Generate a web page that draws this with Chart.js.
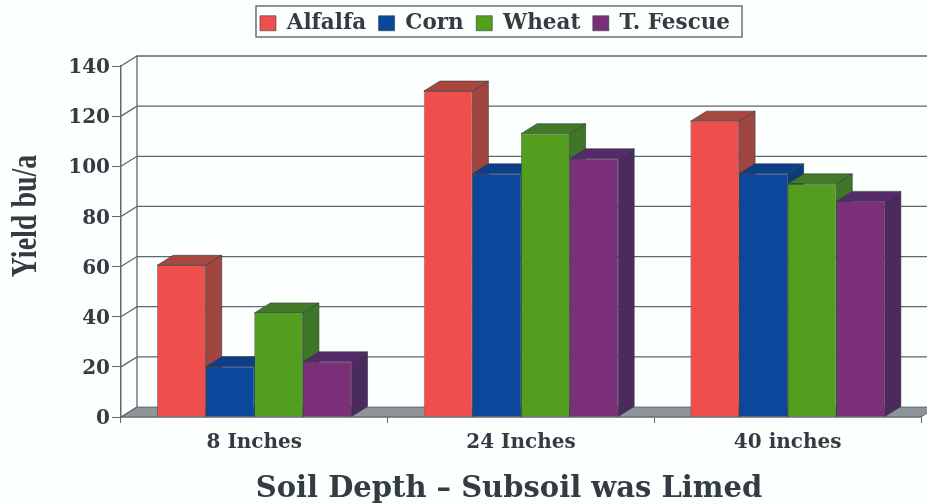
<!DOCTYPE html>
<html>
<head>
<meta charset="utf-8">
<style>
  html, body { margin: 0; padding: 0; background: #fbfffe; }
  #wrap { width: 927px; height: 504px; }
</style>
<script src="https://cdn.jsdelivr.net/npm/chart.js@4/dist/chart.umd.min.js"></script>
</head>
<body>
<div id="wrap"><canvas id="yieldChart" width="927" height="504"></canvas></div>
<script>
const depths = ['8 Inches', '24 Inches', '40 inches'];
const names = ['Alfalfa', 'Corn', 'Wheat', 'T. Fescue'];
const alfalfa = [60.5, 130, 118];
const corn = [20, 97, 97];
const wheat = [41.5, 113, 93];
const fescue = [22, 103, 86];
const yTitle = 'Yield bu/a';
const xTitle = 'Soil Depth – Subsoil was Limed';

const FONT = '"DejaVu Serif", "Liberation Serif", serif';
const INK = '#333c40';
const LINE = '#5f686c';

// how far the back of the "3d" box sits from the front
const DX = 16, DY = -10;

// colours per series: front, side, top
const faces = [
  ['#ee4f4c', '#a0453f', '#a8473f'],
  ['#0b479b', '#0a3a80', '#0b3f8a'],
  ['#549e1f', '#3e7528', '#427a28'],
  ['#7a2f78', '#4b2a5e', '#55296a']
];

function poly(ctx, pts, fill) {
  ctx.beginPath();
  pts.forEach((p, i) => i ? ctx.lineTo(p[0], p[1]) : ctx.moveTo(p[0], p[1]));
  ctx.closePath();
  ctx.fillStyle = fill;
  ctx.fill();
  ctx.strokeStyle = '#2f3a3d';
  ctx.lineWidth = 0.6;
  ctx.stroke();
}

// walls, floor and the back of the bars, native bars then draw the fronts on top
const box3d = {
  id: 'box3d',
  beforeInit(chart) {
    // legend keeps the strip above the plot
    const fit = chart.legend.fit;
    chart.legend.fit = function () {
      fit.call(this);
      this.height = 66;
    };
  },
  afterLayout(chart) {
    // legend sits right of the page centre in the original
    chart.legend.left = 69;
  },
  beforeDatasetsDraw(chart) {
    const ctx = chart.ctx;
    const { left, right, bottom } = chart.chartArea;
    const y = chart.scales.y;
    ctx.save();

    poly(ctx, [[left, bottom], [left + DX, bottom + DY], [right + DX, bottom + DY], [right, bottom]], '#8e9599');

    ctx.strokeStyle = LINE;
    ctx.lineWidth = 1.3;
    y.ticks.forEach(t => {
      const py = y.getPixelForValue(t.value);
      ctx.beginPath();
      ctx.moveTo(left, py);
      ctx.lineTo(left + DX, py + DY);
      if (t.value > 0) ctx.lineTo(right + DX, py + DY);
      ctx.stroke();
    });
    ctx.beginPath();
    ctx.moveTo(left + DX, y.getPixelForValue(y.max) + DY);
    ctx.lineTo(left + DX, bottom + DY);
    ctx.stroke();

    chart.data.datasets.forEach((ds, i) => {
      chart.getDatasetMeta(i).data.forEach(bar => {
        const p = bar.getProps(['x', 'y', 'base', 'width'], true);
        const x0 = p.x - p.width / 2, x1 = p.x + p.width / 2;
        poly(ctx, [[x1, p.y], [x1 + DX, p.y + DY], [x1 + DX, p.base + DY], [x1, p.base]], faces[i][1]);
        poly(ctx, [[x0, p.y], [x0 + DX, p.y + DY], [x1 + DX, p.y + DY], [x1, p.y]], faces[i][2]);
      });
    });
    ctx.restore();
  },
  afterDraw(chart) {
    const ctx = chart.ctx;
    ctx.save();
    // frame round the legend
    ctx.strokeStyle = LINE;
    ctx.lineWidth = 1.4;
    ctx.strokeRect(256, 6, 486, 31);

    // axis titles are off centre in the original, so they go here
    ctx.fillStyle = INK;
    ctx.textAlign = 'center';
    ctx.textBaseline = 'middle';
    ctx.font = 'bold 29px ' + FONT;
    ctx.fillText(xTitle, 509, 489);
    ctx.translate(27, 216);
    ctx.rotate(-Math.PI / 2);
    ctx.scale(1, 1.25); // the original lettering is tall and narrow
    ctx.font = 'bold 28px "Liberation Serif", serif';
    ctx.fillText(yTitle, 0, 0);
    ctx.restore();
  }
};

const series = [alfalfa, corn, wheat, fescue];

new Chart(document.getElementById('yieldChart'), {
  type: 'bar',
  data: {
    labels: depths,
    datasets: series.map((values, i) => ({
      label: names[i],
      data: values,
      backgroundColor: faces[i][0],
      borderColor: '#2f3a3d',
      borderWidth: 0.6
    }))
  },
  plugins: [box3d],
  options: {
    responsive: false,
    animation: false,
    layout: { padding: { top: 0, right: 6, left: 0, bottom: 0 } },
    datasets: { bar: { categoryPercentage: 0.729, barPercentage: 1 } },
    plugins: {
      tooltip: { enabled: false },
      legend: {
        position: 'top',
        align: 'center',
        labels: {
          color: INK,
          boxWidth: 16,
          boxHeight: 15,
          padding: 12.5,
          font: { family: FONT, size: 21.5, weight: 'bold' }
        }
      }
    },
    scales: {
      x: {
        afterFit: s => { s.height = 87; },
        grid: { offset: true, drawOnChartArea: false, color: LINE, tickLength: 6 },
        border: { color: LINE, width: 1.5 },
        ticks: { color: INK, padding: 8, maxRotation: 0, font: { family: FONT, size: 20, weight: 'bold' } }
      },
      y: {
        min: 0,
        max: 140,
        afterFit: s => { s.width = 121; },
        grid: { drawOnChartArea: false, color: LINE, tickLength: 9 },
        border: { color: LINE, width: 1.5 },
        ticks: { stepSize: 20, color: INK, padding: 2, labelOffset: 2, font: { family: FONT, size: 20, weight: 'bold' } }
      }
    }
  }
});
</script>
</body>
</html>
